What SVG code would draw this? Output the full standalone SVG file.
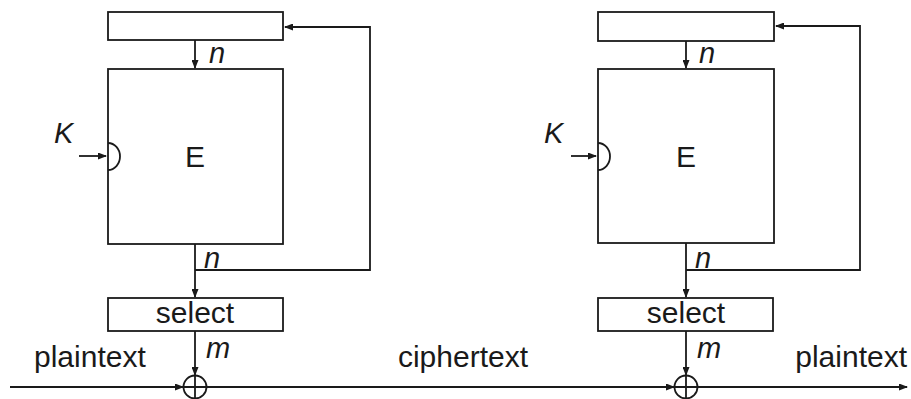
<svg xmlns="http://www.w3.org/2000/svg" width="911" height="399" viewBox="0 0 911 399">
<style>
.box{fill:#fff;stroke:#1a1a1a;stroke-width:1.8}
.ln{fill:none;stroke:#1a1a1a;stroke-width:1.8}
.t{font-family:"Liberation Sans",Arial,sans-serif;font-size:30px;fill:#1a1a1a}
.i{font-family:"Liberation Sans",Arial,sans-serif;font-size:29px;font-style:italic;fill:#1a1a1a}
</style>
<defs>
<marker id="ah" markerUnits="userSpaceOnUse" markerWidth="9" markerHeight="7" refX="8" refY="3.5" orient="auto">
<path d="M0,0 L9,3.5 L0,7 z" fill="#1a1a1a"/>
</marker>
</defs>
<rect width="911" height="399" fill="#fff"/>
<g id="connectors">
<path class="ln" d="M195,40 L195,68" marker-end="url(#ah)"/>
<path class="ln" d="M195,244 L195,297" marker-end="url(#ah)"/>
<path class="ln" d="M195,270 L370,270 L370,27 L285,27" marker-end="url(#ah)"/>
<path class="ln" d="M195,331 L195,375" marker-end="url(#ah)"/>
<path class="ln" d="M79,156 L106,156" marker-end="url(#ah)"/>
<path class="ln" d="M686,41 L686,68" marker-end="url(#ah)"/>
<path class="ln" d="M686,243 L686,297" marker-end="url(#ah)"/>
<path class="ln" d="M686,270 L860,270 L860,26 L776,26" marker-end="url(#ah)"/>
<path class="ln" d="M686,331 L686,375" marker-end="url(#ah)"/>
<path class="ln" d="M571,156 L596,156" marker-end="url(#ah)"/>
<path class="ln" d="M10,387 L183,387" marker-end="url(#ah)"/>
<path class="ln" d="M207,387 L674,387" marker-end="url(#ah)"/>
<path class="ln" d="M698,387 L907,387" marker-end="url(#ah)"/>
</g>
<g id="reg1"><rect class="box" x="108" y="12" width="175" height="28"/></g>
<g id="E1"><rect class="box" x="108" y="69" width="175" height="175"/>
<path class="ln" d="M108,143 A12,13.5 0 0 1 108,170"/>
<text class="t" x="195" y="167" text-anchor="middle">E</text></g>
<g id="sel1"><rect class="box" x="108" y="298" width="175" height="33"/>
<text class="t" x="195" y="323" text-anchor="middle">select</text></g>
<g id="xor1"><circle class="ln" cx="195" cy="387" r="11.5"/><path class="ln" d="M183.5,387 L206.5,387 M195,375.5 L195,398.5"/></g>
<g id="reg2"><rect class="box" x="598" y="12" width="176" height="29"/></g>
<g id="E2"><rect class="box" x="598" y="69" width="176" height="174"/>
<path class="ln" d="M598,143 A12,13.5 0 0 1 598,170"/>
<text class="t" x="686" y="167" text-anchor="middle">E</text></g>
<g id="sel2"><rect class="box" x="598" y="298" width="175" height="33"/>
<text class="t" x="686" y="323" text-anchor="middle">select</text></g>
<g id="xor2"><circle class="ln" cx="686" cy="387" r="11.5"/><path class="ln" d="M674.5,387 L697.5,387 M686,375.5 L686,398.5"/></g>
<g id="labels">
<text class="i" x="209" y="63">n</text>
<text class="i" x="204" y="268">n</text>
<text class="i" x="206" y="358">m</text>
<text class="i" x="54" y="143">K</text>
<text class="i" x="699" y="63">n</text>
<text class="i" x="695" y="268">n</text>
<text class="i" x="697" y="358">m</text>
<text class="i" x="544" y="143">K</text>
<text class="t" x="34" y="367">plaintext</text>
<text class="t" x="463" y="367" text-anchor="middle">ciphertext</text>
<text class="t" x="907" y="367" text-anchor="end">plaintext</text>
</g>
</svg>
